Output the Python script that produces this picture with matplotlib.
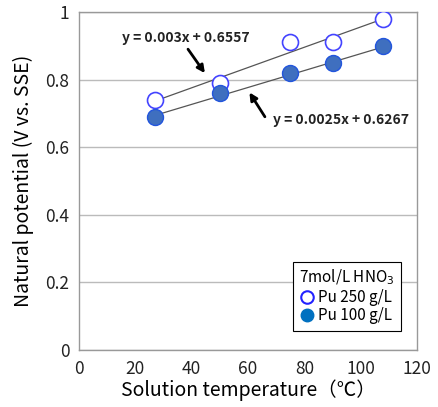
import matplotlib
matplotlib.use("Agg")
import matplotlib.pyplot as plt
import numpy as np

plt.rcParams['font.family'] = ['Noto Sans CJK JP', 'DejaVu Sans']

temperature = [27, 50, 75, 90, 108]
pu250 = [0.74, 0.79, 0.91, 0.91, 0.98]
pu100 = [0.69, 0.76, 0.82, 0.85, 0.90]
fit250 = (0.003, 0.6557)
fit100 = (0.0025, 0.6267)
xticks = [0, 20, 40, 60, 80, 100, 120]
yticks = [0, 0.2, 0.4, 0.6, 0.8, 1]

fig = plt.figure(figsize=(4.38, 4.07), dpi=100)
ax = fig.add_axes([79/438, 1-350/407, 338/438, 338/407])

ax.set_xlim(0, 120)
ax.set_ylim(0, 1)
ax.set_xticks(xticks)
ax.set_yticks(yticks)
ax.set_yticklabels(['0', '0.2', '0.4', '0.6', '0.8', '1'])
ax.tick_params(length=0, labelsize=12.5, pad=7, colors='#222222')
ax.grid(axis='y', color='#bbbbbb', lw=1)
ax.set_axisbelow(True)
for s in ax.spines.values():
    s.set_color('#999999')
    s.set_linewidth(1)

xs = np.array([temperature[0], temperature[-1]])
ax.plot(xs, fit250[0]*xs + fit250[1], color='#555555', lw=0.9, zorder=2)
ax.plot(xs, fit100[0]*xs + fit100[1], color='#555555', lw=0.9, zorder=2)

ax.plot(temperature, pu250, 'o', ms=11.5, mfc='white', mec='#4444ff', mew=1.2,
        zorder=3, label='Pu 250 g/L')
ax.plot(temperature, pu100, 'o', ms=11.5, mfc='#3f6fbf', mec='#2255dd', mew=1.0,
        zorder=3, label='Pu 100 g/L')

# equation labels with pointer arrows
ax.text(38, 0.923, 'y = 0.003x + 0.6557', fontsize=10, fontweight='bold',
        ha='center', va='center', color='#222222')
ax.annotate('', xy=(44.7, 0.819), xytext=(38.7, 0.89),
            arrowprops=dict(arrowstyle='-|>', color='black', lw=2,
                            mutation_scale=11, shrinkA=0, shrinkB=0))
ax.text(93, 0.68, 'y = 0.0025x + 0.6267', fontsize=10, fontweight='bold',
        ha='center', va='center', color='#222222')
ax.annotate('', xy=(60.5, 0.762), xytext=(66, 0.69),
            arrowprops=dict(arrowstyle='-|>', color='black', lw=2,
                            mutation_scale=11, shrinkA=0, shrinkB=0))

ax.set_xlabel('Solution temperature（℃）', fontsize=14, labelpad=1)
ax.set_ylabel('Natural potential (V vs. SSE)', fontsize=14, labelpad=8)

h1 = plt.Line2D([], [], marker='o', ls='none', ms=9, mfc='white', mec='#2222ff', mew=1.5)
h2 = plt.Line2D([], [], marker='o', ls='none', ms=9, mfc='#0070c0', mec='#0070c0')
leg = ax.legend([h1, h2], ['Pu 250 g/L', 'Pu 100 g/L'], title='7mol/L HNO$_3$',
                loc='lower right', bbox_to_anchor=(0.975, 0.035), fontsize=11,
                title_fontsize=11, frameon=True, fancybox=False,
                edgecolor='black', framealpha=1, handletextpad=0.2,
                handlelength=1.0, borderpad=0.4, labelspacing=0.1,
                alignment='left')
leg.get_frame().set_linewidth(0.8)

fig.savefig('out.png', dpi=100)
